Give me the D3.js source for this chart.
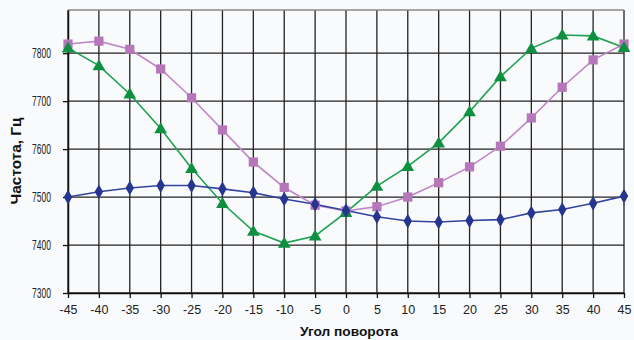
<!DOCTYPE html>
<html><head><meta charset="utf-8">
<script src="https://cdn.jsdelivr.net/npm/d3@7"></script>
<style>body{margin:0;background:#f9fafc;}svg{display:block;}</style>
</head><body>
<script>
const angles = [-45,-40,-35,-30,-25,-20,-15,-10,-5,0,5,10,15,20,25,30,35,40,45];
const blueSeries  = [7500,7511,7519,7524,7524,7517,7509,7496,7485,7472,7459,7450,7448,7451,7453,7467,7474,7487,7502];
const pinkSeries  = [7819,7825,7808,7767,7707,7640,7573,7520,7483,7471,7480,7500,7530,7563,7606,7665,7729,7786,7819];
const greenSeries = [7811,7774,7715,7643,7560,7487,7429,7404,7419,7468,7523,7564,7613,7678,7751,7810,7838,7836,7812];
const yTicks = [7300,7400,7500,7600,7700,7800];
const xTitle = "Угол поворота";
const yTitle = "Частота, Гц";

const W = 634, H = 340;
const svg = d3.select("body").append("svg").attr("width", W).attr("height", H);
svg.append("rect").attr("width", W).attr("height", H).attr("fill", "#f9fafc");

const x = d3.scaleLinear().domain([-45, 45]).range([68, 624]);
const y = d3.scaleLinear().domain([7300, 7890]).range([293, 10]);

const g = svg.append("g");
// grid
g.selectAll(".vg").data(angles).enter().append("line")
  .attr("x1", d => x(d)).attr("x2", d => x(d)).attr("y1", y(7890)).attr("y2", y(7300))
  .attr("stroke", "#222").attr("stroke-width", 1.3);
g.selectAll(".hg").data(yTicks).enter().append("line")
  .attr("x1", x(-45)).attr("x2", x(45)).attr("y1", d => y(d)).attr("y2", d => y(d))
  .attr("stroke", "#222").attr("stroke-width", 1.3);
// top border
g.append("line").attr("x1", x(-45)).attr("x2", x(45)).attr("y1", y(7890)).attr("y2", y(7890))
  .attr("stroke", "#888").attr("stroke-width", 1.3);

// axes
const xAxis = d3.axisBottom(x).tickValues(angles).tickSize(5).tickSizeOuter(0).tickFormat(d => String(d));
const gx = svg.append("g").attr("transform", `translate(0,${y(7300)})`).call(xAxis);
gx.select(".domain").attr("stroke", "#111").attr("stroke-width", 1.5);
gx.selectAll(".tick line").attr("stroke", "#111").attr("stroke-width", 1.3);
gx.selectAll(".tick text").attr("font-family", "Liberation Sans, Arial, sans-serif")
  .attr("font-size", 12.5).attr("fill", "#222").attr("dy", "0.71em").attr("y", 12);

const yAxis = d3.axisLeft(y).tickValues(yTicks).tickSize(5).tickSizeOuter(0).tickFormat(d => String(d));
const gy = svg.append("g").attr("transform", `translate(${x(-45)},0)`).call(yAxis);
gy.select(".domain").attr("stroke", "#111").attr("stroke-width", 1.5);
gy.selectAll(".tick text").attr("font-family", "Liberation Sans, Arial, sans-serif")
  .attr("font-size", 14).attr("fill", "#222").attr("x", -17)
  .attr("textLength", 19).attr("lengthAdjust", "spacingAndGlyphs");
gy.selectAll(".tick line").attr("stroke", "#111").attr("stroke-width", 1.3);

// series
const series = [
  {vals: pinkSeries, line: "#c088c6", fill: "#b577b9", shape: "square"},
  {vals: greenSeries, line: "#1ea151", fill: "#0e9040", shape: "triangle"},
  {vals: blueSeries, line: "#3344a0", fill: "#26358f", shape: "diamond"}
];
const lineGen = d3.line().x((d,i) => x(angles[i])).y(d => y(d));
series.forEach(s => {
  svg.append("path").datum(s.vals).attr("d", lineGen).attr("fill", "none")
    .attr("stroke", s.line).attr("stroke-width", 1.6);
});
series.forEach(s => {
  let sym, size;
  if (s.shape === "square") { sym = d3.symbolSquare; size = 85; }
  else if (s.shape === "triangle") { sym = d3.symbolTriangle; size = 70; }
  else { sym = d3.symbolDiamond; size = 62; }
  svg.selectAll(null).data(s.vals).enter().append("path")
    .attr("d", d3.symbol().type(sym).size(size))
    .attr("transform", (d,i) => `translate(${x(angles[i])},${y(d) + (s.shape==="triangle" ? 1 : 0)})`)
    .attr("fill", s.fill);
});

// titles
svg.append("text").attr("x", 349).attr("y", 336).attr("text-anchor", "middle")
  .attr("font-family", "Liberation Sans, Arial, sans-serif").attr("font-weight", "bold")
  .attr("font-size", 13.5).attr("fill", "#111")
  .attr("textLength", 98).attr("lengthAdjust", "spacingAndGlyphs").text(xTitle);
svg.append("text").attr("transform", "translate(21,161) rotate(-90)").attr("text-anchor", "middle")
  .attr("font-family", "Liberation Sans, Arial, sans-serif").attr("font-weight", "bold")
  .attr("font-size", 14).attr("fill", "#111")
  .attr("textLength", 87).attr("lengthAdjust", "spacingAndGlyphs").text(yTitle);
</script>
</body></html>
